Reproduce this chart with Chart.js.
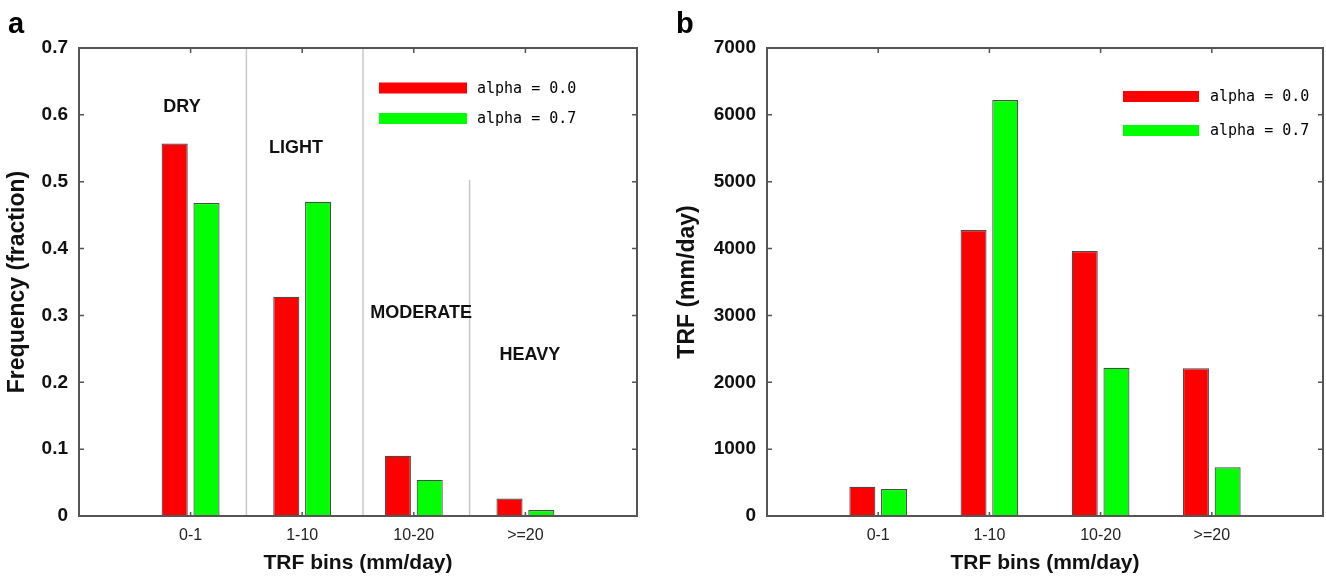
<!DOCTYPE html>
<html>
<head>
<meta charset="utf-8">
<script src="https://cdn.jsdelivr.net/npm/chart.js@4/dist/chart.umd.min.js"></script>
<style>
  html, body { margin: 0; padding: 0; background: #fff; }
  #wrap { position: relative; width: 1326px; height: 577px; overflow: hidden; }
  #ca { position: absolute; left: 0; top: 0; }
  #cb { position: absolute; left: 655px; top: 0; }
</style>
</head>
<body>
<div id="wrap">
  <canvas id="ca" width="655" height="577"></canvas>
  <canvas id="cb" width="678" height="577"></canvas>
</div>
<script>
// ---------- data ----------
const categories = ['0-1', '1-10', '10-20', '>=20'];
const seriesNames = ['alpha = 0.0', 'alpha = 0.7'];
const freqAlpha00 = [0.557, 0.328, 0.090, 0.026];
const freqAlpha07 = [0.468, 0.470, 0.054, 0.009];
const trfAlpha00 = [438, 4278, 3964, 2209];
const trfAlpha07 = [404, 6222, 2218, 728];
const regimeLabels = ['DRY', 'LIGHT', 'MODERATE', 'HEAVY'];
const freqTicks = [0, 0.1, 0.2, 0.3, 0.4, 0.5, 0.6, 0.7];
const trfTicks = [0, 1000, 2000, 3000, 4000, 5000, 6000, 7000];

// padded category axis (one empty slot each side)
const paddedLabels = [''].concat(categories, ['']);
const pad = arr => [null].concat(arr, [null]);

const RED = '#ff0000', GREEN = '#00ff00', FRAME = '#555555';
const SANS = "'Liberation Sans', Arial, Helvetica, sans-serif";

const decorPlugin = {
  id: 'decor',
  beforeDatasetsDraw(chart, args, o) {
    const ctx = chart.ctx, x = chart.scales.x, y = chart.scales.y;
    ctx.save();
    ctx.strokeStyle = '#c8c8c8';
    ctx.lineWidth = 1.5;
    (o.separators || []).forEach(s => {
      const px = x.getPixelForValue(s.at);
      ctx.beginPath();
      ctx.moveTo(px, y.getPixelForValue(s.from));
      ctx.lineTo(px, y.getPixelForValue(s.to));
      ctx.stroke();
    });
    ctx.restore();
  },
  afterDraw(chart, args, o) {
    const ctx = chart.ctx, a = chart.chartArea, x = chart.scales.x, y = chart.scales.y;
    ctx.save();
    // ticks (inward)
    ctx.strokeStyle = FRAME;
    ctx.lineWidth = 1.5;
    y.ticks.forEach(t => {
      const py = y.getPixelForValue(t.value);
      ctx.beginPath();
      ctx.moveTo(a.left, py); ctx.lineTo(a.left + 5, py);
      ctx.moveTo(a.right, py); ctx.lineTo(a.right - 5, py);
      ctx.stroke();
    });
    for (let i = 1; i <= categories.length; i++) {
      const px = x.getPixelForValue(i);
      ctx.beginPath();
      ctx.moveTo(px, a.top); ctx.lineTo(px, a.top + 5);
      ctx.moveTo(px, a.bottom); ctx.lineTo(px, a.bottom - 4);
      ctx.stroke();
    }
    // frame
    ctx.lineWidth = 2;
    ctx.strokeRect(a.left, a.top, a.right - a.left, a.bottom - a.top);

    // regime labels
    ctx.fillStyle = '#111';
    ctx.font = 'bold 18px ' + SANS;
    ctx.textAlign = 'center';
    ctx.textBaseline = 'middle';
    (o.regimes || []).forEach((r, i) => {
      ctx.fillText(regimeLabels[i], x.getPixelForValue(r.x), y.getPixelForValue(r.y));
    });

    // legend
    const L = o.legend;
    chart.data.datasets.forEach((ds, i) => {
      const cy = L.y + i * L.gap;
      ctx.fillStyle = ds.backgroundColor;
      ctx.fillRect(L.x, cy - 5.5, L.len, 11);
      ctx.fillStyle = '#000';
      ctx.font = "15px 'DejaVu Sans Mono', monospace";
      ctx.textAlign = 'left';
      ctx.textBaseline = 'middle';
      ctx.fillText(ds.label, L.textX, cy + 1);
    });

    // panel letter
    ctx.fillStyle = '#000';
    ctx.font = 'bold 29px ' + SANS;
    ctx.textAlign = 'left';
    ctx.textBaseline = 'alphabetic';
    ctx.fillText(o.letter, o.letterX, 33);
    ctx.restore();
  }
};

function makeChart(id, vals0, vals1, yMax, yStep, yTitle, yWidth, padRight, yTitlePad, opts) {
  return new Chart(document.getElementById(id), {
    type: 'bar',
    data: {
      labels: paddedLabels,
      datasets: [
        { label: seriesNames[0], data: pad(vals0), backgroundColor: RED, borderColor: '#4a4a4a', borderWidth: 1.2,
          categoryPercentage: 0.57, barPercentage: 0.82 },
        { label: seriesNames[1], data: pad(vals1), backgroundColor: GREEN, borderColor: '#4a4a4a', borderWidth: 1.2,
          categoryPercentage: 0.57, barPercentage: 0.82 }
      ]
    },
    options: {
      responsive: false,
      animation: false,
      devicePixelRatio: 1,
      layout: { padding: { top: 48, right: padRight, bottom: 0, left: 0 } },
      plugins: { legend: { display: false }, tooltip: { enabled: false }, decor: opts },
      scales: {
        x: {
          type: 'category',
          offset: false,
          grid: { display: false, drawTicks: false },
          border: { display: false },
          ticks: { color: '#222', font: { family: SANS, size: 16 }, padding: 10, maxRotation: 0, autoSkip: false },
          title: { display: true, text: 'TRF bins (mm/day)', color: '#111',
                   font: { family: SANS, size: 21, weight: 'bold' }, padding: { top: 0, bottom: 1 } },
          afterFit(s) { s.height = 61; }
        },
        y: {
          min: 0, max: yMax,
          grid: { display: false, drawTicks: false },
          border: { display: false },
          ticks: { stepSize: yStep, color: '#111', padding: 11,
                   font: { family: SANS, size: 19, weight: 'bold' },
                   callback: v => String(Math.round(v * 1000) / 1000) },
          title: { display: true, text: yTitle, color: '#111',
                   font: { family: SANS, size: 23, weight: 'bold' }, padding: { top: yTitlePad, bottom: 0 } },
          afterFit(s) { s.width = yWidth; }
        }
      }
    },
    plugins: [decorPlugin]
  });
}

makeChart('ca', freqAlpha00, freqAlpha07, freqTicks[freqTicks.length - 1], freqTicks[1] - freqTicks[0],
  'Frequency (fraction)', 79, 18, 4, {
    letter: 'a', letterX: 8,
    separators: [ { at: 1.5, from: 0, to: 0.7 }, { at: 2.545, from: 0, to: 0.7 }, { at: 3.5, from: 0, to: 0.503 } ],
    regimes: [ { x: 0.923, y: 0.612 }, { x: 1.944, y: 0.550 }, { x: 3.065, y: 0.303 }, { x: 4.04, y: 0.241 } ],
    legend: { x: 379, y: 88, gap: 30.5, len: 88, textX: 477 }
  });

makeChart('cb', trfAlpha00, trfAlpha07, trfTicks[trfTicks.length - 1], trfTicks[1] - trfTicks[0],
  'TRF (mm/day)', 112, 0, 19, {
    letter: 'b', letterX: 21,
    separators: [],
    regimes: [],
    legend: { x: 468, y: 96.5, gap: 34, len: 76, textX: 555 }
  });
</script>
</body>
</html>
